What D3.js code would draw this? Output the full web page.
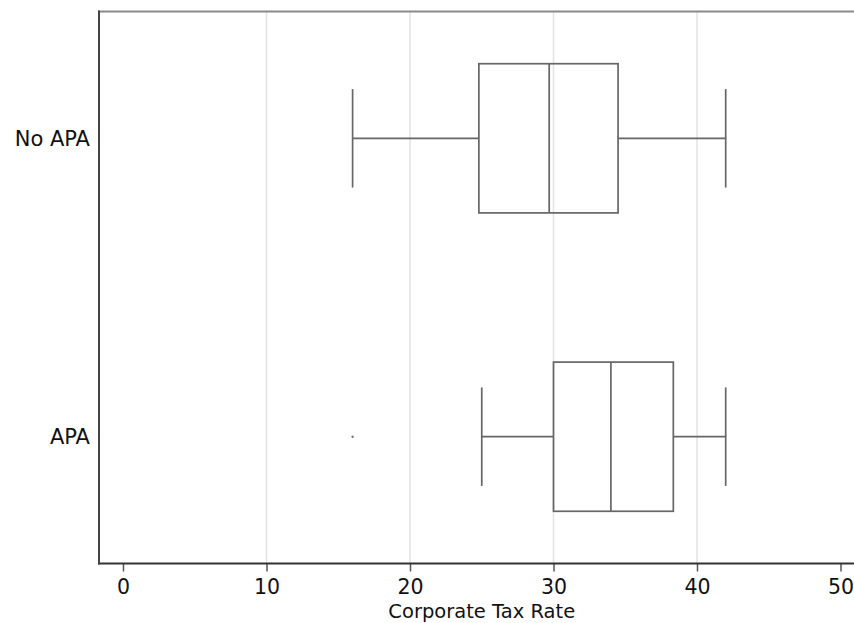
<!DOCTYPE html>
<html>
<head>
<meta charset="utf-8">
<script src="https://cdn.jsdelivr.net/npm/d3@7"></script>
<style>
  html, body { margin: 0; padding: 0; background: #fff; }
  svg { display: block; font-family: "DejaVu Sans", sans-serif; }
</style>
</head>
<body>
<svg id="chart" width="854" height="623"></svg>
<script>
// 箱ひげ図のデータ
const categories = ['No APA', 'APA'];
const lowerWhisker = [16, 25];
const q1 = [24.8, 30];
const median = [29.7, 34];
const q3 = [34.5, 38.35];
const upperWhisker = [42, 42];
const outlierCategory = ['APA'];
const outlierValue = [16];
const xTicks = [0, 10, 20, 30, 40, 50];
const gridTicks = [10, 20, 30, 40];
const xTitle = 'Corporate Tax Rate';

const svg = d3.select('#chart');
const plot = { left: 99, top: 11.5, right: 854, bottom: 563.5 };

const xScale = d3.scaleLinear()
    .domain([0, 50])
    .range([123, 840.5]);

const yScale = d3.scalePoint()
    .domain(categories)
    .range([plot.top, plot.bottom])
    .padding(0.425);

const step = yScale.step();
const boxHalf = step * 0.25;
const capHalf = step * 0.165;
const boxColor = '#666';

// グリッド線
svg.append('g')
    .selectAll('line')
    .data(gridTicks)
    .enter().append('line')
    .attr('x1', d => xScale(d))
    .attr('x2', d => xScale(d))
    .attr('y1', plot.top)
    .attr('y2', plot.bottom)
    .attr('stroke', '#e3e3e3')
    .attr('stroke-width', 1.5);

// 上枠
svg.append('line')
    .attr('x1', plot.left - 1)
    .attr('x2', plot.right)
    .attr('y1', plot.top)
    .attr('y2', plot.top)
    .attr('stroke', '#8a8a8a')
    .attr('stroke-width', 2);

// X軸
const xAxis = d3.axisBottom(xScale)
    .tickValues(xTicks)
    .tickSize(8)
    .tickPadding(8)
    .tickFormat(d3.format('d'));

const xAxisG = svg.append('g')
    .attr('transform', `translate(0, ${plot.bottom})`)
    .call(xAxis);

xAxisG.select('.domain').remove();
xAxisG.selectAll('.tick line')
    .attr('stroke', '#555')
    .attr('stroke-width', 1.5);
xAxisG.selectAll('.tick text')
    .attr('fill', '#111')
    .style('font-size', '20.5px')
    .style('font-family', '"DejaVu Sans", sans-serif');

svg.append('line')
    .attr('x1', plot.left - 1)
    .attr('x2', plot.right)
    .attr('y1', plot.bottom)
    .attr('y2', plot.bottom)
    .attr('stroke', '#333')
    .attr('stroke-width', 2);

// Y軸（左枠とカテゴリラベル）
svg.append('line')
    .attr('x1', plot.left)
    .attr('x2', plot.left)
    .attr('y1', plot.top - 1)
    .attr('y2', plot.bottom + 1)
    .attr('stroke', '#444')
    .attr('stroke-width', 2);

svg.append('g')
    .selectAll('text')
    .data(categories)
    .enter().append('text')
    .attr('x', 90)
    .attr('y', d => yScale(d))
    .attr('dy', '0.36em')
    .attr('text-anchor', 'end')
    .attr('fill', '#111')
    .style('font-size', '21px')
    .text(d => d);

// 軸タイトル
svg.append('text')
    .attr('x', (xScale(0) + xScale(50)) / 2)
    .attr('y', 617.5)
    .attr('text-anchor', 'middle')
    .attr('fill', '#111')
    .style('font-size', '19.5px')
    .text(xTitle);

// 箱ひげ
const boxes = categories.map((c, i) => ({
    name: c,
    lo: lowerWhisker[i],
    q1: q1[i],
    med: median[i],
    q3: q3[i],
    hi: upperWhisker[i]
}));

const boxGroups = svg.selectAll('.box')
    .data(boxes)
    .enter().append('g')
    .attr('class', 'box')
    .attr('stroke', boxColor)
    .attr('stroke-width', 1.7)
    .attr('fill', 'none');

// ひげ（横線）
boxGroups.append('line')
    .attr('x1', d => xScale(d.lo))
    .attr('x2', d => xScale(d.q1))
    .attr('y1', d => yScale(d.name))
    .attr('y2', d => yScale(d.name));

boxGroups.append('line')
    .attr('x1', d => xScale(d.q3))
    .attr('x2', d => xScale(d.hi))
    .attr('y1', d => yScale(d.name))
    .attr('y2', d => yScale(d.name));

// ひげの端
boxGroups.append('line')
    .attr('x1', d => xScale(d.lo))
    .attr('x2', d => xScale(d.lo))
    .attr('y1', d => yScale(d.name) - capHalf)
    .attr('y2', d => yScale(d.name) + capHalf);

boxGroups.append('line')
    .attr('x1', d => xScale(d.hi))
    .attr('x2', d => xScale(d.hi))
    .attr('y1', d => yScale(d.name) - capHalf)
    .attr('y2', d => yScale(d.name) + capHalf);

// 箱
boxGroups.append('rect')
    .attr('x', d => xScale(d.q1))
    .attr('y', d => yScale(d.name) - boxHalf)
    .attr('width', d => xScale(d.q3) - xScale(d.q1))
    .attr('height', boxHalf * 2);

// 中央値
boxGroups.append('line')
    .attr('x1', d => xScale(d.med))
    .attr('x2', d => xScale(d.med))
    .attr('y1', d => yScale(d.name) - boxHalf)
    .attr('y2', d => yScale(d.name) + boxHalf);

// 外れ値
svg.append('g')
    .selectAll('circle')
    .data(outlierValue.map((v, i) => ({ name: outlierCategory[i], value: v })))
    .enter().append('circle')
    .attr('cx', d => xScale(d.value))
    .attr('cy', d => yScale(d.name))
    .attr('r', 1.2)
    .attr('fill', '#777');
</script>
</body>
</html>
